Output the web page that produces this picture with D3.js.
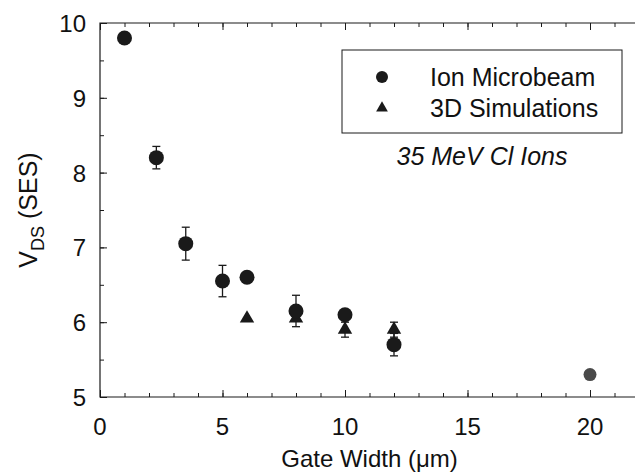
<!DOCTYPE html>
<html>
<head>
<meta charset="utf-8">
<script src="https://cdn.jsdelivr.net/npm/d3@7"></script>
<style>
  body { margin: 0; background: #fff; }
  text { font-family: "Liberation Sans", Arial, sans-serif; fill: #111; }
</style>
</head>
<body>
<div id="chart"></div>
<script>
  // Ion microbeam measurements
  var microX = [1, 2.3, 3.5, 5, 6, 8, 10, 12, 20];
  var microY = [9.8, 8.2, 7.05, 6.55, 6.6, 6.15, 6.1, 5.7, 5.3];
  var microErr = [0, 0.15, 0.22, 0.21, 0, 0.21, 0, 0.15, 0];

  // 3D simulation results
  var simX = [6, 8, 10, 12];
  var simY = [6.05, 6.05, 5.9, 5.9];
  var simErr = [0, 0, 0.1, 0.1];

  var xTicks = [0, 5, 10, 15, 20];
  var yTicks = [5, 6, 7, 8, 9, 10];
  var legendLabels = ['Ion Microbeam', '3D Simulations'];

  var width = 635, height = 473;
  var plotLeft = 100, plotTop = 23, plotRight = 639, plotBottom = 397;

  var svg = d3.select('#chart').append('svg')
      .attr('width', width)
      .attr('height', height);

  var x = d3.scaleLinear().domain([0, 22]).range([plotLeft, plotRight]);
  var y = d3.scaleLinear().domain([5, 10]).range([plotBottom, plotTop]);

  var ink = '#1a1a1a';

  // inward ticks, drawn with the axis generators
  function styleAxis(g) {
    g.select('.domain').remove();
    g.selectAll('line').attr('stroke', ink).attr('stroke-width', 1);
    g.selectAll('text').remove();
  }
  svg.append('g').attr('transform', 'translate(0,' + plotBottom + ')')
      .call(d3.axisTop(x).tickValues(d3.range(0, 23, 1)).tickSize(4)).call(styleAxis);
  svg.append('g').attr('transform', 'translate(0,' + plotBottom + ')')
      .call(d3.axisTop(x).tickValues(xTicks).tickSize(7)).call(styleAxis);
  svg.append('g').attr('transform', 'translate(0,' + plotTop + ')')
      .call(d3.axisBottom(x).tickValues(d3.range(0, 23, 1)).tickSize(4)).call(styleAxis);
  svg.append('g').attr('transform', 'translate(0,' + plotTop + ')')
      .call(d3.axisBottom(x).tickValues(xTicks).tickSize(7)).call(styleAxis);
  svg.append('g').attr('transform', 'translate(' + plotLeft + ',0)')
      .call(d3.axisRight(y).tickValues(d3.range(5, 10.01, 0.5)).tickSize(4)).call(styleAxis);
  svg.append('g').attr('transform', 'translate(' + plotLeft + ',0)')
      .call(d3.axisRight(y).tickValues(yTicks).tickSize(7)).call(styleAxis);

  // frame (right side runs off the picture)
  svg.append('path')
      .attr('d', 'M' + plotRight + ',' + plotTop + 'H' + plotLeft + 'V' + plotBottom + 'H' + plotRight)
      .attr('fill', 'none')
      .attr('stroke', ink)
      .attr('stroke-width', 1.2);

  // tick labels
  svg.append('g').selectAll('text').data(xTicks).enter().append('text')
      .attr('x', function(d) { return x(d); })
      .attr('y', 435)
      .attr('text-anchor', 'middle')
      .style('font-size', '24px')
      .text(function(d) { return d; });

  svg.append('g').selectAll('text').data(yTicks).enter().append('text')
      .attr('x', 86)
      .attr('y', function(d) { return y(d) + 9; })
      .attr('text-anchor', 'end')
      .style('font-size', '24px')
      .text(function(d) { return d; });

  // axis titles
  svg.append('text')
      .attr('x', (plotLeft + plotRight) / 2)
      .attr('y', 467)
      .attr('text-anchor', 'middle')
      .style('font-size', '24px')
      .text('Gate Width (\u03bcm)');

  var yTitle = svg.append('text')
      .attr('transform', 'translate(37,' + ((plotTop + plotBottom) / 2) + ') rotate(-90)')
      .attr('text-anchor', 'middle')
      .style('font-size', '25px');
  yTitle.append('tspan').text('V');
  yTitle.append('tspan').attr('dy', 7).style('font-size', '18px').text('DS');
  yTitle.append('tspan').attr('dy', -7).text(' (SES)');

  // error bars
  function errorBars(xs, ys, errs) {
    var g = svg.append('g').attr('stroke', ink).attr('stroke-width', 1.3);
    xs.forEach(function(xv, i) {
      if (!errs[i]) return;
      var cx = x(xv), y0 = y(ys[i] - errs[i]), y1 = y(ys[i] + errs[i]);
      g.append('line').attr('x1', cx).attr('x2', cx).attr('y1', y0).attr('y2', y1);
      g.append('line').attr('x1', cx - 4).attr('x2', cx + 4).attr('y1', y0).attr('y2', y0);
      g.append('line').attr('x1', cx - 4).attr('x2', cx + 4).attr('y1', y1).attr('y2', y1);
    });
  }
  errorBars(simX, simY, simErr);
  errorBars(microX, microY, microErr);

  var tri = d3.symbol().type(d3.symbolTriangle).size(90);

  // simulation triangles
  svg.append('g').selectAll('path').data(simX).enter().append('path')
      .attr('d', tri)
      .attr('transform', function(d, i) { return 'translate(' + x(d) + ',' + y(simY[i]) + ')'; })
      .attr('fill', ink);

  // microbeam circles
  svg.append('g').selectAll('circle').data(microX).enter().append('circle')
      .attr('cx', function(d) { return x(d); })
      .attr('cy', function(d, i) { return y(microY[i]); })
      .attr('r', function(d) { return d === 20 ? 6.5 : 7.5; })
      .attr('fill', function(d) { return d === 20 ? '#4a4a4a' : ink; });

  // legend
  var lg = svg.append('g');
  lg.append('rect')
      .attr('x', 342).attr('y', 50)
      .attr('width', 280).attr('height', 83)
      .attr('fill', '#fff')
      .attr('stroke', ink)
      .attr('stroke-width', 1);
  lg.append('circle').attr('cx', 382).attr('cy', 77).attr('r', 6).attr('fill', ink);
  lg.append('path')
      .attr('d', d3.symbol().type(d3.symbolTriangle).size(60))
      .attr('transform', 'translate(382,108)')
      .attr('fill', ink);
  lg.selectAll('text.lbl').data(legendLabels).enter().append('text')
      .attr('class', 'lbl')
      .attr('x', 430)
      .attr('y', function(d, i) { return 86 + i * 31; })
      .style('font-size', '25px')
      .text(function(d) { return d; });

  svg.append('text')
      .attr('x', 482)
      .attr('y', 165)
      .attr('text-anchor', 'middle')
      .style('font-size', '25px')
      .style('font-style', 'italic')
      .text('35 MeV Cl Ions');
</script>
</body>
</html>
